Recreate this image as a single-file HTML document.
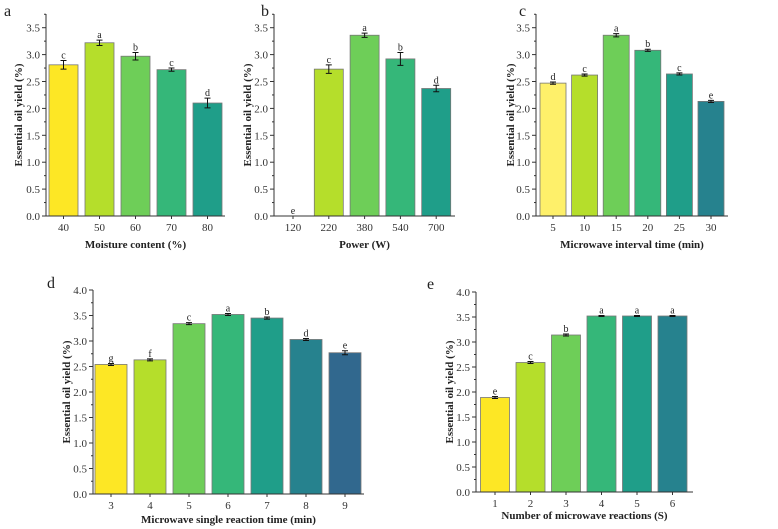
<!DOCTYPE html>
<html><head><meta charset="utf-8"><style>
html,body{margin:0;padding:0;background:#fff;}
svg{display:block;font-family:"Liberation Serif",serif;}
</style></head><body>
<svg id="fig" width="778" height="529" viewBox="0 0 778 529"></svg>
<script>
const catsA=["40","50","60","70","80"];
const valsA=[2.81,3.22,2.97,2.72,2.10];
const errA=[0.08,0.05,0.07,0.03,0.09];
const letA=["c","a","b","c","d"];
const catsB=["120","220","380","540","700"];
const valsB=[0,2.73,3.36,2.92,2.37];
const errB=[0,0.08,0.04,0.12,0.06];
const letB=["e","c","a","b","d"];
const catsC=["5","10","15","20","25","30"];
const valsC=[2.47,2.62,3.36,3.08,2.64,2.13];
const errC=[0.02,0.02,0.03,0.02,0.02,0.02];
const letC=["d","c","a","b","c","e"];
const catsD=["3","4","5","6","7","8","9"];
const valsD=[2.54,2.63,3.34,3.52,3.45,3.03,2.77];
const errD=[0.02,0.02,0.02,0.02,0.02,0.02,0.04];
const letD=["g","f","c","a","b","d","e"];
const catsE=["1","2","3","4","5","6"];
const valsE=[1.89,2.59,3.14,3.52,3.52,3.52];
const errE=[0.02,0.02,0.02,0.01,0.01,0.01];
const letE=["e","c","b","a","a","a"];
const ticks35=["0.0","0.5","1.0","1.5","2.0","2.5","3.0","3.5"];
const ticks40=["0.0","0.5","1.0","1.5","2.0","2.5","3.0","3.5","4.0"];

const NS="http://www.w3.org/2000/svg";
const svg=document.getElementById('fig');
function mk(tag,attrs,parent,text){const e=document.createElementNS(NS,tag);for(const k in attrs)e.setAttribute(k,attrs[k]);if(text!==undefined)e.textContent=text;(parent||svg).appendChild(e);return e;}

function panel(o){
  const g=mk('g',{});
  
  
  const y=v=>o.y0-(v/0.5)*o.step;
  const x=i=>o.c0+i*o.dx;
  o.vals.forEach((v,i)=>{
    const r=mk('rect',{x:x(i)-o.bw/2,y:y(v),width:o.bw,height:o.y0-y(v),fill:o.colors[i],stroke:'#777','stroke-width':0.8},g);
    
    
    const e=o.err[i];
    if(v>0){
      const eb=mk('path',{d:`M${x(i)},${y(v+e)}V${y(v-e)}M${x(i)-3},${y(v+e)}h6M${x(i)-3},${y(v-e)}h6`,stroke:'#111','stroke-width':1,fill:'none'},g);
      
      
    }
    const t=mk('text',{x:x(i),y:y(v+e)-2,'text-anchor':'middle','font-size':10,fill:'#222'},g,o.lets[i]);
    
    
    const tl=mk('text',{x:x(i),y:o.y0+15,'text-anchor':'middle','font-size':11,fill:'#333'},g,o.cats[i]);
    
    
    mk('line',{x1:x(i),x2:x(i),y1:o.y0,y2:o.y0+3,stroke:'#333'},g);
  });
  mk('path',{d:`M${o.xl},${o.top}V${o.y0}H${o.xr}`,stroke:'#333','stroke-width':1,fill:'none'},g);
  o.ticks.forEach((t,i)=>{
    const yy=y(i*0.5);
    mk('line',{x1:o.xl-4,x2:o.xl,y1:yy,y2:yy,stroke:'#333'},g);
    if(i<o.ticks.length-1||o.minorTop) mk('line',{x1:o.xl-2,x2:o.xl,y1:yy-o.step/2,y2:yy-o.step/2,stroke:'#333'},g);
    const tl=mk('text',{x:o.xl-6,y:yy+4,'text-anchor':'end','font-size':11,fill:'#333'},g,t);
    
    
  });
  const yt=mk('text',{x:0,y:0,transform:`translate(${o.ytx},${(o.top+o.y0)/2}) rotate(-90)`,'text-anchor':'middle','font-size':11,'font-weight':'bold',fill:'#222'},g,'Essential oil yield (%)');
  
  
  const xt=mk('text',{x:(o.xl+o.xr)/2,y:o.xty,'text-anchor':'middle','font-size':11,'font-weight':'bold',fill:'#222'},g,o.xtitle);
  
  
  const pl=mk('text',{x:o.lx,y:o.ly,'font-size':16,fill:'#222'},g,o.id);
  
  
}
const V=['#fde725','#b5de2b','#6ece58','#35b779','#1f9e89','#26828e','#31688e'];
panel({id:'a',cats:catsA,vals:valsA,err:errA,lets:letA,ticks:ticks35,colors:V,y0:216,step:26.9,top:14,xl:46,xr:225,c0:63.5,dx:36,bw:29,ytx:22,xty:248,xtitle:'Moisture content (%)',lx:4,ly:16,minorTop:true});
panel({id:'b',cats:catsB,vals:valsB,err:errB,lets:letB,ticks:ticks35,colors:['#fde725','#b5de2b','#6ece58','#35b779','#1f9e89'],y0:216,step:26.9,top:14,xl:274,xr:455,c0:293,dx:35.8,bw:29,ytx:251,xty:248,xtitle:'Power (W)',lx:261,ly:16,minorTop:true});
panel({id:'c',cats:catsC,vals:valsC,err:errC,lets:letC,ticks:ticks35,colors:['#fef06a','#b5de2b','#6ece58','#35b779','#1f9e89','#26828e'],y0:216,step:26.9,top:14,xl:536,xr:728,c0:553,dx:31.6,bw:26,ytx:514,xty:248,xtitle:'Microwave interval time (min)',lx:519,ly:16,minorTop:true});
panel({id:'d',cats:catsD,vals:valsD,err:errD,lets:letD,ticks:ticks40,colors:['#fde725','#b5de2b','#6ece58','#35b779','#1f9e89','#26828e','#31688e'],y0:494,step:25.5,top:290,xl:93,xr:364,c0:111,dx:39,bw:32,ytx:70,xty:523,xtitle:'Microwave single reaction time (min)',lx:47,ly:288,minorTop:false});
panel({id:'e',cats:catsE,vals:valsE,err:errE,lets:letE,ticks:ticks40,colors:['#fde725','#b5de2b','#6ece58','#35b779','#1f9e89','#26828e'],y0:492,step:25,top:292,xl:476,xr:693,c0:495,dx:35.5,bw:29,ytx:453,xty:519,xtitle:'Number of microwave reactions (S)',lx:427,ly:289,minorTop:false});
</script>
</body></html>
